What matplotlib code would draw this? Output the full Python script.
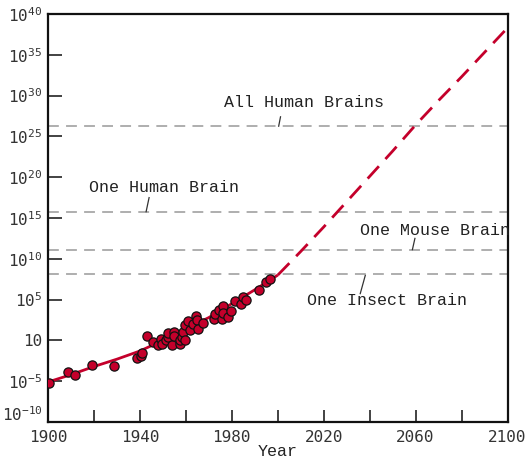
import numpy as np
import matplotlib
matplotlib.use("Agg")
import matplotlib.pyplot as plt
import matplotlib.transforms as mtrans

# trend curve (year, log10 value)
curve_year = [1900, 1910, 1920, 1930, 1940, 1950, 1960, 1970, 1980, 1990, 2000,
              2010, 2020, 2030, 2040, 2050, 2060, 2070, 2080, 2090, 2100]
curve_log = [-5.1, -4.2, -3.2, -2.3, -1.3, 0.0, 1.4, 2.8, 4.5, 6.2, 8.0,
             10.9, 13.9, 17.0, 20.1, 23.2, 26.4, 29.4, 32.3, 35.3, 38.3]

# machines (year, log10 value)
pt_year = [1900.6, 1908.5, 1911.8, 1919.0, 1928.6, 1938.6, 1940.5, 1941.0, 1943.0,
           1945.8, 1948.0, 1949.0, 1949.5, 1951.4, 1952.4, 1952.4, 1953.8, 1954.7,
           1954.7, 1957.5, 1957.5, 1958.2, 1958.6, 1959.6, 1959.8, 1960.8, 1962.0,
           1963.2, 1964.3, 1964.7, 1965.4, 1967.6, 1972.4, 1972.7, 1974.3, 1975.6,
           1976.3, 1976.3, 1978.5, 1979.5, 1981.2, 1983.9, 1984.7, 1986.3, 1992.0,
           1994.7, 1996.6]
pt_log = [-5.16, -3.9, -4.3, -3.04, -3.08, -2.1, -1.94, -1.51, 0.51,
          -0.19, -0.51, 0.14, -0.39, 0.02, 0.42, 0.96, -0.51, 1.03,
          0.51, -0.47, 0.02, 0.42, 1.03, 0.10, 1.94, 2.38, 1.30,
          1.98, 3.02, 2.5, 1.45, 2.1, 2.67, 3.29, 3.78, 2.67,
          4.18, 3.38, 2.92, 3.57, 4.79, 4.51, 5.37, 5.0, 6.14,
          7.15, 7.57]

# reference levels
ref_names = ["All Human Brains", "One Human Brain", "One Mouse Brain", "One Insect Brain"]
ref_log = [26.25, 15.77, 11.12, 8.13]
ref_text_xy = [(2011.4, 29.15), (1950.5, 18.75), (2068.3, 13.5), (2047.5, 4.83)]
ref_lead_from = [(2001.2, 27.4), (1944.0, 17.5), (2059.7, 12.5), (2038.1, 7.97)]
ref_lead_to = [(2000.4, 26.25), (1942.7, 15.77), (2058.6, 11.12), (2035.9, 5.73)]

ytick_exp = [-10, -5, 0, 5, 10, 15, 20, 25, 30, 35, 40]

red = "#c4002b"
mono = "Liberation Mono"

fig = plt.figure(figsize=(5.28, 4.59), dpi=100)
ax = fig.add_axes([0.0909, 0.0806, 0.8703, 0.8889])

cy = np.array(curve_year)
cl = np.array(curve_log)
solid = cy <= 2000
dashed = cy >= 2000
ax.plot(cy[solid], 10.0 ** cl[solid], color=red, lw=2, solid_capstyle="butt", zorder=3)
ax.plot(cy[dashed], 10.0 ** cl[dashed], color=red, lw=2, dashes=(6, 3.5), zorder=3)

for lv in ref_log:
    ax.axhline(10.0 ** lv, color="#a8a8a8", lw=1.3, dashes=(6, 4), zorder=1)

for name, (tx, ty), (fx, fy), (lx, ly) in zip(ref_names, ref_text_xy, ref_lead_from, ref_lead_to):
    ax.text(tx, 10.0 ** ty, name, fontfamily=mono, fontsize=12, ha="center", va="center",
            color="#222222", zorder=6, clip_on=False)
    ax.plot([fx, lx], [10.0 ** fy, 10.0 ** ly], color="#333333", lw=0.9, zorder=2)

ax.scatter(pt_year, 10.0 ** np.array(pt_log), s=44, facecolor=red, edgecolor="#111111",
           linewidth=0.9, zorder=4)

ax.set_yscale("log")
ax.set_xlim(1900, 2100)
ax.set_ylim(1e-10, 1e40)

ax.set_xticks(np.arange(1900, 2101, 20))
ax.set_xticklabels([str(y) if (y - 1900) % 40 == 0 else "" for y in range(1900, 2101, 20)])
ax.set_yticks([10.0 ** e for e in ytick_exp])
ylabs = []
for e in ytick_exp:
    if e == 0:
        ylabs.append("10")
    else:
        ylabs.append(r"$\mathregular{10^{%d}}$" % e)
ax.set_yticklabels(ylabs)
ax.minorticks_off()
ax.tick_params(axis="both", direction="in", length=10, width=1.2, color="#222222",
               labelcolor="#333333", labelsize=11.5, pad=4)
ax.tick_params(axis="x", length=9, pad=6)
for lab in ax.get_xticklabels() + ax.get_yticklabels():
    lab.set_fontfamily("DejaVu Sans Mono")

# the bottom label sits a little above the axis corner
ylab_objs = ax.get_yticklabels()
ylab_objs[0].set_transform(ylab_objs[0].get_transform() +
                           mtrans.ScaledTranslation(0, 9 / 100, fig.dpi_scale_trans))

for sp in ax.spines.values():
    sp.set_linewidth(1.6)
    sp.set_color("#111111")

ax.set_xlabel("Year", fontfamily=mono, fontsize=12, labelpad=-1, color="#222222")

fig.savefig("out.png", dpi=100)
